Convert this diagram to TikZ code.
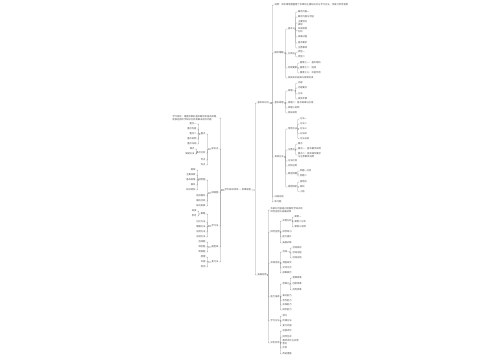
\documentclass[tikz,border=0pt]{standalone}
\usepackage{fontspec}
\newfontfamily\cjk{Noto Sans CJK SC}
\tikzset{
  txt/.style={font=\cjk\fontsize{2.3}{2.9}\selectfont, text=black!70, inner sep=0.3pt, align=left},
  conn/.style={draw=black!40, line width=0.35pt, rounded corners=0.6pt}
}
\newcommand\RN[4]{\node[txt,anchor=west] (#1) at (#2) {#3};\draw[conn] (#4.east) -| ([xshift=-1.8pt]#1.west) -- (#1.west);}
\newcommand\LN[4]{\node[txt,anchor=east] (#1) at (#2) {#3};\draw[conn] (#4.west) -| ([xshift=1.8pt]#1.east) -- (#1.east);}
\begin{document}
\begin{tikzpicture}[x=1pt,y=-1pt]
\useasboundingbox[fill=white] (0,0) rectangle (500,360);
\node[txt] (root) at (238,190) {学科知识体系 — 思维导图};
% ---------- right tree ----------
\RN{r1}{257,103}{基本知识点}{root}
\RN{r1o}{274,5}{说明：本思维导图整理了本章的主要知识点与学习方法，供复习参考使用}{r1}
\RN{r1a}{274,53}{概念理解}{r1}
\RN{r1aa}{287.5,29}{基本义}{r1a}
\RN{r1aa1}{297.5,12}{概念内容一}{r1aa}
\RN{r1aa2}{297.5,17}{概念内容与特征}{r1aa}
\RN{r1aa3}{297.5,23}{主要特点\\表现}{r1aa}
\RN{r1aa4}{297.5,30.5}{形成原因\\分析}{r1aa}
\RN{r1aa5}{297.5,37}{发展过程}{r1aa}
\RN{r1aa6}{297.5,43}{基本要求}{r1aa}
\RN{r1aa7}{297.5,48}{注意事项}{r1aa}
\RN{r1ab}{287.5,54}{分类法}{r1a}
\RN{r1ab1}{297.5,52}{类型一}{r1ab}
\RN{r1ab2}{297.5,57}{类型二}{r1ab}
\RN{r1ac}{287.5,68}{构成要素}{r1a}
\RN{r1ac1}{299.5,63}{要素之一：基本结构}{r1ac}
\RN{r1ac2}{299.5,68}{要素之二：组成}{r1ac}
\RN{r1ac3}{299.5,73}{要素之三：功能作用}{r1ac}
\RN{r1ad}{287.5,78}{相关知识拓展与延伸阅读}{r1a}
\RN{r1b}{274,103}{基本原理}{r1}
\RN{r1ba}{287.5,91}{原理一}{r1b}
\RN{r1ba1}{297.5,83}{内容}{r1ba}
\RN{r1ba2}{297.5,88}{内容要点}{r1ba}
\RN{r1ba3}{297.5,94}{方法}{r1ba}
\RN{r1ba4}{297.5,99}{具体步骤}{r1ba}
\RN{r1bb}{287.5,103}{原理二：基本规律与应用}{r1b}
\RN{r1bc}{287.5,108}{原理三说明}{r1b}
\RN{r1bd}{287.5,113}{相关原则}{r1b}
\RN{r1c}{274,157}{具体方法}{r1}
\RN{r1ca}{287.5,129}{常用方法}{r1c}
\RN{r1ca1}{299.5,119}{方法一}{r1ca}
\RN{r1ca2}{299.5,124}{方法二}{r1ca}
\RN{r1ca3}{299.5,129}{方法三}{r1ca}
\RN{r1ca4}{299.5,133.5}{方法四}{r1ca}
\RN{r1ca5}{299.5,138.5}{方法总结}{r1ca}
\RN{r1cb}{287.5,150}{注意点}{r1c}
\RN{r1cb1}{297.5,144}{要点}{r1cb}
\RN{r1cb2}{297.5,149}{要点一：基本要求说明}{r1cb}
\RN{r1cb3}{297.5,155}{要点二：具体操作要求\\与注意事项说明}{r1cb}
\RN{r1cc}{287.5,161}{方法比较}{r1c}
\RN{r1cd}{287.5,166}{实际应用}{r1c}
\RN{r1ce}{287.5,174}{典型例题}{r1c}
\RN{r1ce1}{299.5,171}{例题一分析}{r1ce}
\RN{r1ce2}{299.5,176}{例题二}{r1ce}
\RN{r1cf}{287.5,187}{易错辨析}{r1c}
\RN{r1cf1}{299.5,182}{易错点}{r1cf}
\RN{r1cf2}{299.5,187}{辨析}{r1cf}
\RN{r1cf3}{299.5,191.5}{小结}{r1cf}
\RN{r1d}{274,197}{归纳总结}{r1}
\RN{r1e}{274,202}{练习题}{r1}
\RN{r2}{257,275}{拓展应用}{root}
\RN{r2a}{270,210}{本部分内容是对前面所学知识的\\综合运用与拓展延伸}{r2}
\RN{r2b}{270,232}{综合运用}{r2}
\RN{r2ba}{282,221}{实例分析}{r2b}
\RN{r2ba1}{294,217}{案例一}{r2ba}
\RN{r2ba2}{294,222}{案例二分析}{r2ba}
\RN{r2ba3}{294,227}{案例三说明}{r2ba}
\RN{r2bb}{282,232}{综合练习}{r2b}
\RN{r2bc}{282,237}{能力提升}{r2b}
\RN{r2bd}{282,243}{拓展训练}{r2b}
\RN{r2c}{270,263}{实践活动}{r2}
\RN{r2ca}{282,252}{活动一}{r2c}
\RN{r2ca1}{292,248}{活动目标}{r2ca}
\RN{r2ca2}{292,253}{活动过程}{r2ca}
\RN{r2ca3}{292,258}{活动总结}{r2ca}
\RN{r2cb}{282,263}{调查研究}{r2c}
\RN{r2cc}{282,268}{交流讨论}{r2c}
\RN{r2cd}{282,273}{成果展示}{r2c}
\RN{r2d}{270,297}{能力培养}{r2}
\RN{r2da}{282,284}{思维力}{r2d}
\RN{r2da1}{292,278}{逻辑思维}{r2da}
\RN{r2da2}{292,284}{创新思维}{r2da}
\RN{r2da3}{292,290}{批判思维}{r2da}
\RN{r2db}{282,296}{表达能力}{r2d}
\RN{r2dc}{282,300.5}{合作能力}{r2d}
\RN{r2dd}{282,305}{实践能力}{r2d}
\RN{r2de}{282,310}{探究能力}{r2d}
\RN{r2e}{270,321}{学习方法}{r2}
\RN{r2e1}{282,316}{预习}{r2e}
\RN{r2e2}{282,321}{听课方法}{r2e}
\RN{r2e3}{282,326}{复习巩固}{r2e}
\RN{r2f}{270,343}{评价反思}{r2}
\RN{r2f1}{282,331}{自我评价}{r2f}
\RN{r2f2}{282,337}{同伴互评}{r2f}
\RN{r2f3}{282,342.5}{教师评价与反馈\\意见}{r2f}
\RN{r2f4}{282,348}{反思}{r2f}
\RN{r2f5}{282,354}{改进措施}{r2f}
% ---------- left tree ----------
\LN{l1}{219,118}{学习目标：掌握本章的基本概念和基本原理，\\能够运用所学知识分析和解决实际问题}{root}
\LN{l2}{219,149}{知识点}{root}
\LN{l2a}{206,134}{重点}{l2}
\LN{l2a1}{197,124}{重点一}{l2a}
\LN{l2a2}{197,129}{重点内容}{l2a}
\LN{l2a3}{197,134}{重点二}{l2a}
\LN{l2a4}{197,139}{重点说明}{l2a}
\LN{l2a5}{197,144}{重点归纳}{l2a}
\LN{l2b}{206,153}{难点分析}{l2}
\LN{l2b1}{195,149}{难点}{l2b}
\LN{l2b2}{195,154}{突破方法}{l2b}
\LN{l2c}{206,160}{考点}{l2}
\LN{l2d}{206,165}{热点}{l2}
\LN{l3}{219,193}{网络图}{root}
\LN{l3a}{206,180}{结构图}{l3}
\LN{l3a1}{196,170}{框架}{l3a}
\LN{l3a2}{196,175}{主要线索}{l3a}
\LN{l3a3}{196,180}{基本脉络}{l3a}
\LN{l3a4}{196,185}{联系}{l3a}
\LN{l3a5}{196,190}{知识结构}{l3a}
\LN{l3b}{206,196}{前后联系}{l3}
\LN{l3c}{206,201}{横向比较}{l3}
\LN{l3d}{206,206}{纵向发展}{l3}
\LN{l4}{219,226}{学习法}{root}
\LN{l4a}{206,214}{策略}{l4}
\LN{l4a1}{197,211}{阅读}{l4a}
\LN{l4a2}{197,216}{思考}{l4a}
\LN{l4b}{206,222}{记忆方法}{l4}
\LN{l4c}{206,227}{理解方法}{l4}
\LN{l4d}{206,232}{应用方法}{l4}
\LN{l4e}{206,237}{总结方法}{l4}
\LN{l5}{219,247}{题型库}{root}
\LN{l5a}{206,242}{选择题}{l5}
\LN{l5b}{206,247}{填空题}{l5}
\LN{l5c}{206,252}{简答题}{l5}
\LN{l6}{219,262}{复习法}{root}
\LN{l6a}{206,257}{梳理}{l6}
\LN{l6b}{206,262}{巩固}{l6}
\LN{l6c}{206,267}{检测}{l6}
\end{tikzpicture}
\end{document}
